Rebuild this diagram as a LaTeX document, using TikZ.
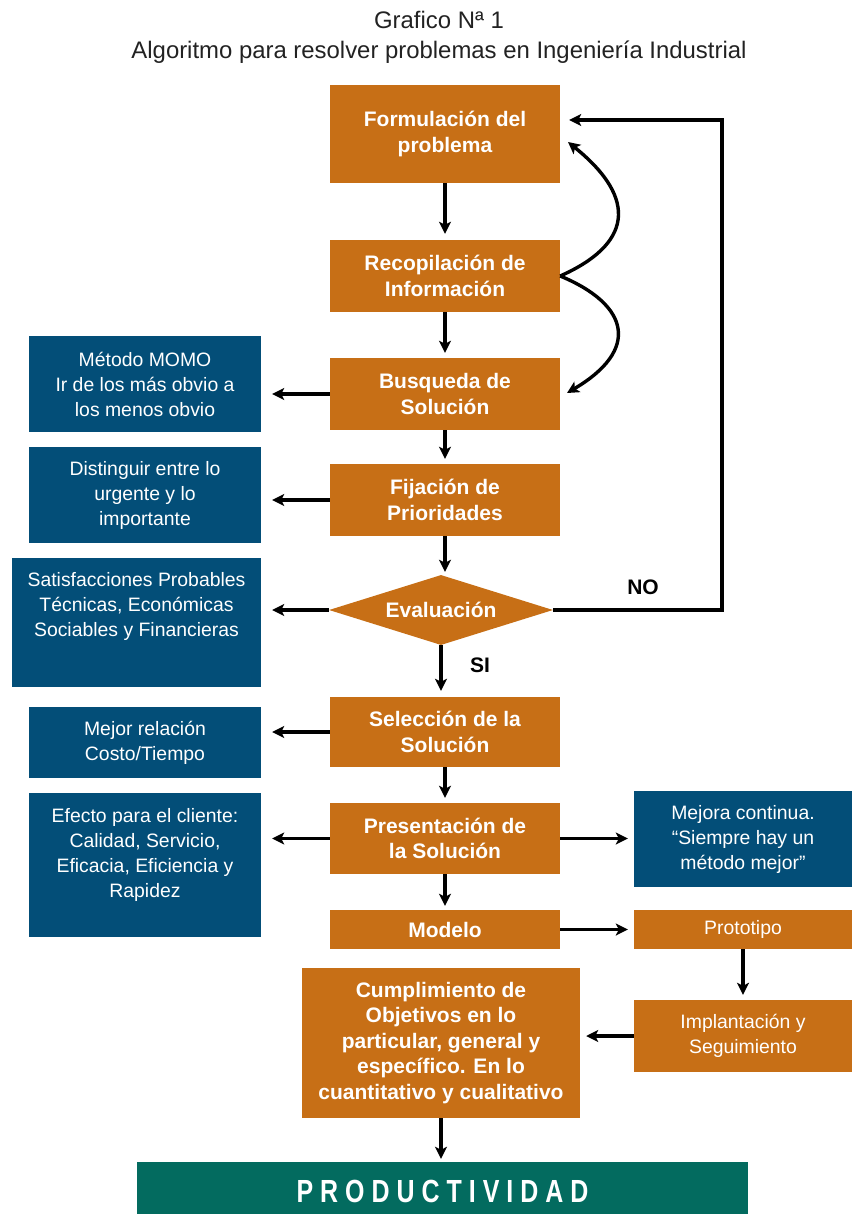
\documentclass[tikz,border=0pt]{standalone}
\usepackage{fontspec}
\setmainfont{Liberation Sans}
\newfontfamily\prodfont[FakeStretch=0.78]{Liberation Sans}
\usetikzlibrary{shapes.geometric,arrows.meta}
\definecolor{ora}{HTML}{C76F16}
\definecolor{blu}{HTML}{034E78}
\definecolor{grn}{HTML}{036B5F}
\definecolor{titlecol}{HTML}{222222}
\begin{document}
\begin{tikzpicture}[x=1pt,y=-1pt,
  obox/.style={fill=ora,text=white,font=\fontsize{21}{25.5}\selectfont\bfseries,align=center,inner sep=0pt},
  orbox/.style={fill=ora,text=white,font=\fontsize{19.4}{25}\selectfont,align=center,inner sep=0pt},
  bbox/.style={fill=blu,text=white,font=\fontsize{19.4}{25}\selectfont,align=center,inner sep=0pt},
  btext/.style={text=white,font=\fontsize{19.4}{25}\selectfont,align=center,inner sep=0pt},
  arr/.style={line width=3.4pt,-{Stealth[length=12pt,width=12pt,inset=3pt]}},
  lbl/.style={font=\fontsize{21}{22}\selectfont\bfseries,text=black,inner sep=0pt},
]
\useasboundingbox (0,0) rectangle (852,1214);
% title
\node[font=\fontsize{23.9}{28}\selectfont,text=titlecol] (t1) at (439,20) {Grafico Nª 1};
\node[font=\fontsize{23.9}{28}\selectfont,text=titlecol] (t2) at (439,52) {Algoritmo para resolver problemas en Ingeniería Industrial};
% central column
\node[obox,minimum width=230pt,minimum height=98pt] (form) at (445,134) {Formulación del\\problema};
\node[obox,minimum width=230pt,minimum height=72pt] (rec) at (445,276) {Recopilación de\\Información};
\node[obox,minimum width=230pt,minimum height=72pt] (busq) at (445,394) {Busqueda de\\Solución};
\node[obox,minimum width=230pt,minimum height=72pt] (fij) at (445,500) {Fijación de\\Prioridades};
\node[diamond,aspect=3.2,fill=ora,text=white,font=\fontsize{21}{24}\selectfont\bfseries,inner sep=0pt,minimum width=224pt,minimum height=70pt] (eval) at (441,610) {Evaluación};
\node[obox,minimum width=230pt,minimum height=70pt] (sel) at (445,732) {Selección de la\\Solución};
\node[obox,minimum width=230pt,minimum height=71pt] (pres) at (445,838.5) {Presentación de\\la Solución};
\node[obox,minimum width=230pt,minimum height=39pt] (model) at (445,929.5) {Modelo};
\node[obox,minimum width=278pt,minimum height=150pt] (cump) at (441,1043) {Cumplimiento de\\Objetivos en lo\\particular, general y\\específico. En lo\\cuantitativo y cualitativo};
% right column
\node[bbox,minimum width=218pt,minimum height=96pt] (mej) at (743,839) {Mejora continua.\\“Siempre hay un\\método mejor”};
\node[orbox,minimum width=218pt,minimum height=39pt] (proto) at (743,929.5) {Prototipo};
\node[orbox,minimum width=218pt,minimum height=72pt] (impl) at (743,1036) {Implantación y\\Seguimiento};
% left column
\node[bbox,minimum width=232pt,minimum height=96pt] (momo) at (145,384) {Método MOMO\\Ir de los más obvio a\\los menos obvio};
\node[bbox,minimum width=232pt,minimum height=96pt] (dist) at (145,495) {Distinguir entre lo\\urgente y lo\\importante};
\node[bbox,minimum width=249pt,minimum height=129pt] (sat) at (136.5,622.5) {};
\node[btext] (sattext) at (136.5,606) {Satisfacciones Probables\\Técnicas, Económicas\\Sociables y Financieras};
\node[bbox,minimum width=232pt,minimum height=71pt] (mejrel) at (145,742.5) {Mejor relación\\Costo/Tiempo};
\node[bbox,minimum width=232pt,minimum height=144pt] (efec) at (145,865) {};
\node[btext] (efectext) at (145,854.5) {Efecto para el cliente:\\Calidad, Servicio,\\Eficacia, Eficiencia y\\Rapidez};
% productivity bar
\node[fill=grn,text=white,inner sep=0pt,minimum width=611pt,minimum height=58pt,font=\prodfont\bfseries\fontsize{32}{32}\selectfont] (prod) at (442.5,1191) {P\kern7pt R\kern7pt O\kern7pt D\kern7pt U\kern7pt C\kern7pt T\kern7pt I\kern7pt V\kern7pt I\kern7pt D\kern7pt A\kern7pt D};
% vertical arrows
\draw[arr,shorten >=6pt] (form.south) -- (rec.north);
\draw[arr,shorten >=5pt] (rec.south) -- (busq.north);
\draw[arr,shorten >=5pt] (busq.south) -- (fij.north);
\draw[arr,shorten >=3pt] (fij.south) -- (fij.south |- eval.north);
\draw[arr,shorten >=6pt] (eval.south) -- (eval.south |- sel.north);
\draw[arr,shorten >=5pt] (sel.south) -- (pres.north);
\draw[arr,shorten >=4pt] (pres.south) -- (model.north);
\draw[arr,shorten >=5pt] (proto.south) -- (impl.north);
\draw[arr,shorten >=3pt] (cump.south) -- (cump.south |- prod.north);
% left arrows
\draw[arr,shorten >=11pt] (busq.west) -- (busq.west -| momo.east);
\draw[arr,shorten >=11pt] (fij.west) -- (fij.west -| dist.east);
\draw[arr,shorten >=11pt] (eval.west) -- (eval.west -| sat.east);
\draw[arr,shorten >=11pt] (sel.west) -- (sel.west -| mejrel.east);
\draw[arr,shorten >=11pt] (pres.west) -- (pres.west -| efec.east);
% right arrows
\draw[arr,shorten >=6pt] (pres.east) -- (pres.east -| mej.west);
\draw[arr,shorten >=6pt] (model.east) -- (proto.west);
\draw[arr,shorten >=6pt] (impl.west) -- (impl.west -| cump.east);
% NO loop
\coordinate (noturn) at (722,120);
\draw[arr,shorten >=9pt] (eval.east) -| (noturn) -- (noturn -| form.east);
\node[lbl] (nolbl) at (643,587) {NO};
\node[lbl] (silbl) at (480,665) {SI};
% curved arrows
\coordinate (upend) at (568,142);
\coordinate (downend) at (567,393);
\draw[arr] (rec.east) .. controls (630,245) and (640,200) .. (upend);
\draw[arr] (rec.east) .. controls (630,305) and (640,350) .. (downend);
\end{tikzpicture}
\end{document}
